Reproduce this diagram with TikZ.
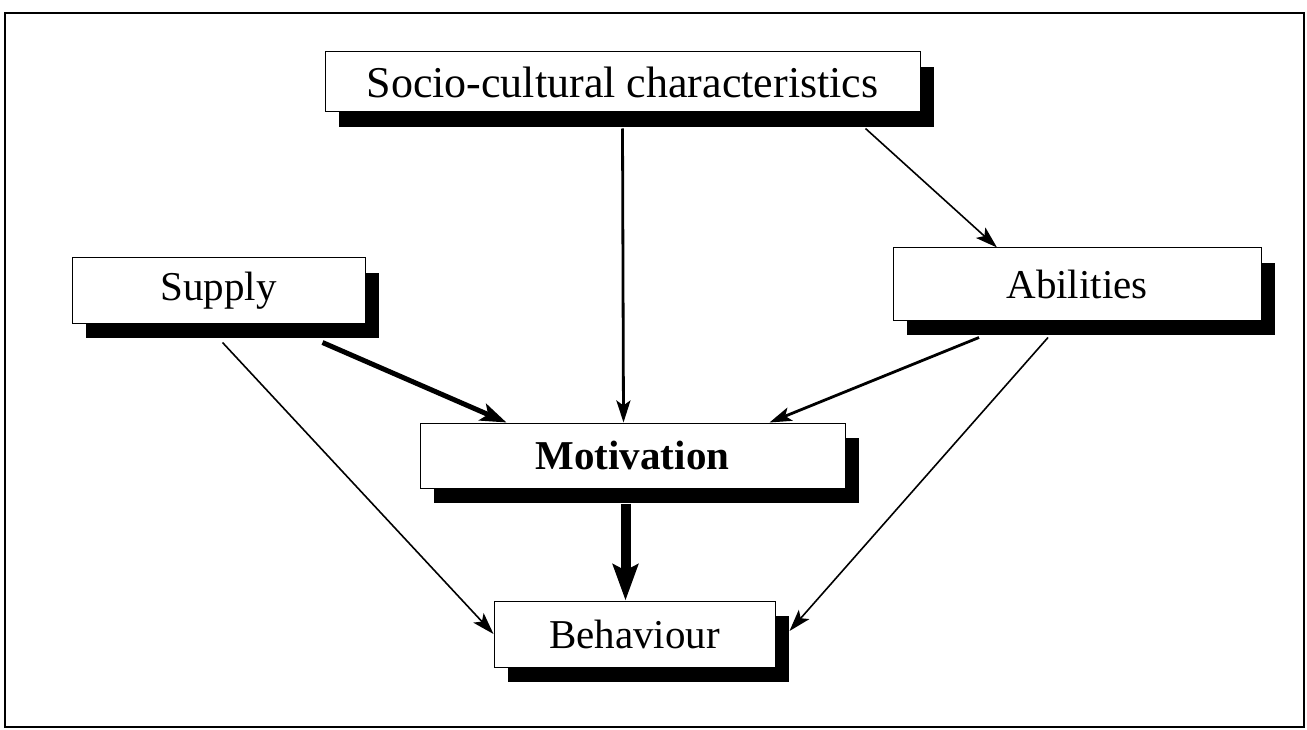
\documentclass[tikz,border=0pt]{standalone}
\usepackage{fontspec}
\setmainfont{Liberation Serif}
\usetikzlibrary{arrows.meta,shadows}

\begin{document}
\begin{tikzpicture}[x=1pt,y=-1pt,
  box/.style={draw,fill=white,line width=1pt,inner sep=0pt,
    font=\fontsize{41}{48}\selectfont,
    drop shadow={shadow xshift=14pt,shadow yshift=-15pt,fill=black,opacity=1}},
  tip/.style={-{Stealth[length=22pt,width=14pt,inset=5pt]}},
  thin/.style={tip,line width=1.6pt},
  mid/.style={tip,line width=2.8pt},
  thick/.style={-{Stealth[length=26pt,width=18pt,inset=6pt]},line width=5pt},
  heavy/.style={-{Stealth[length=36pt,width=25pt,inset=6pt]},line width=10pt}]
\useasboundingbox (0,0) rectangle (1307,730);
\draw[line width=1.5pt] (5,13) rectangle (1304,727);

\node[box,minimum width=595pt,minimum height=60pt,font=\fontsize{44}{50}\selectfont] (soc) at (622.5,82) {Socio-cultural characteristics};
\node[box,minimum width=293pt,minimum height=65pt] (sup) at (218.5,290.5) {Supply};
\node[box,minimum width=368pt,minimum height=72pt] (abi) at (1077,284) {Abilities};
\node[box,minimum width=425pt,minimum height=65pt] (mot) at (632.5,455.5) {\textbf{Motivation}};
\node[box,minimum width=281pt,minimum height=66pt] (beh) at (634.5,634) {Behaviour};

\draw[mid] ([yshift=-16pt]soc.south) -- ([xshift=-9pt]mot.north);
\draw[thin] ([xshift=243pt,yshift=-16pt]soc.south) -- ([xshift=-80pt]abi.north);
\draw[thick] ([xshift=104pt,yshift=-19pt]sup.south) -- ([xshift=-126pt]mot.north);
\draw[thin] ([xshift=4pt,yshift=-19pt]sup.south) -- (beh.west);
\draw[mid] ([xshift=-98pt,yshift=-17pt]abi.south) -- ([xshift=137pt]mot.north);
\draw[thin] ([xshift=-29pt,yshift=-17pt]abi.south) -- ([xshift=14pt,yshift=3pt]beh.east);
\draw[heavy] ([xshift=-7pt,yshift=-15pt]mot.south) -- ([xshift=-9pt]beh.north);
\end{tikzpicture}
\end{document}
